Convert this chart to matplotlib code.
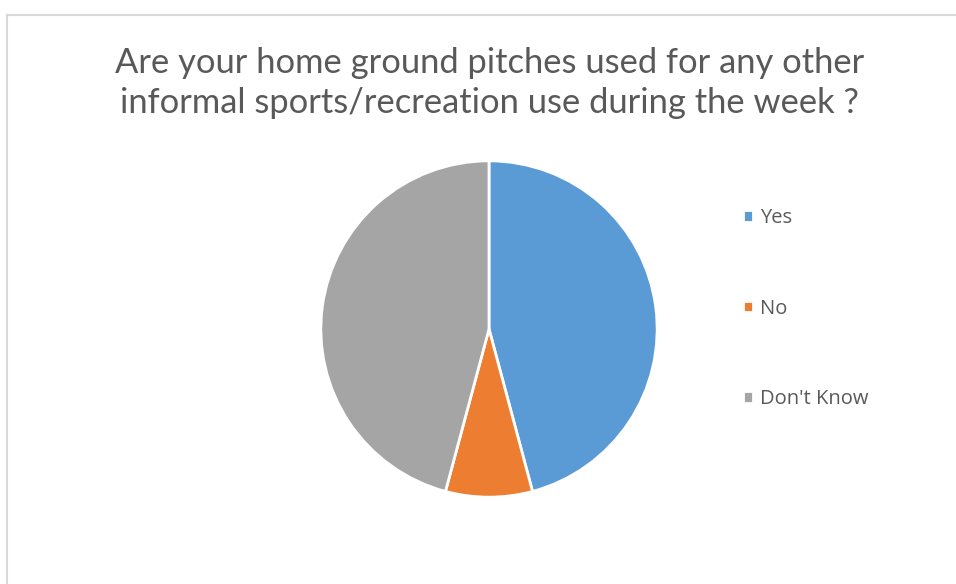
import matplotlib
matplotlib.use("Agg")
import matplotlib.pyplot as plt
from matplotlib.lines import Line2D

# survey responses
categories = ["Yes", "No", "Don't Know"]
responses = [11, 2, 11]
colors = ["#5B9BD5", "#ED7D31", "#A5A5A5"]
title = "Are your home ground pitches used for any other\ninformal sports/recreation use during the week ?"

W, H = 956, 584
fig = plt.figure(figsize=(W / 100, H / 100), dpi=100)
fig.patch.set_facecolor("white")

# light chart-area frame
frame = "#D9D9D9"
fig.add_artist(Line2D([6.5 / W, 6.5 / W], [0, 1 - 14.5 / H], color=frame, lw=1.5))
fig.add_artist(Line2D([6.5 / W, 1], [1 - 14.5 / H, 1 - 14.5 / H], color=frame, lw=1.5))

# pie, centre (489, 329) px, radius 169 px
cx, cy, r = 489, 329, 169
ax = fig.add_axes([(cx - r) / W, (H - cy - r) / H, 2 * r / W, 2 * r / H])
wedges, _ = ax.pie(responses, colors=colors, startangle=90, counterclock=False,
                   radius=1.0, wedgeprops=dict(edgecolor="white", linewidth=2))
ax.set_xlim(-1.005, 1.005)
ax.set_ylim(-1.005, 1.005)
ax.set_aspect("equal")
ax.axis("off")

fig.text(489.5 / W, 1 - 83 / H, title, ha="center", va="center",
         fontsize=24.8, color="#595959", family="Lato", linespacing=1.3)

fig.legend(wedges, categories, loc="upper left",
           bbox_to_anchor=(725 / W, 1 - 190 / H), frameon=False,
           prop=dict(family="Open Sans", size=14.5), labelcolor="#595959",
           handlelength=0.5, handleheight=0.5, handletextpad=0.35,
           labelspacing=3.5)

fig.savefig("out.png", dpi=100)
